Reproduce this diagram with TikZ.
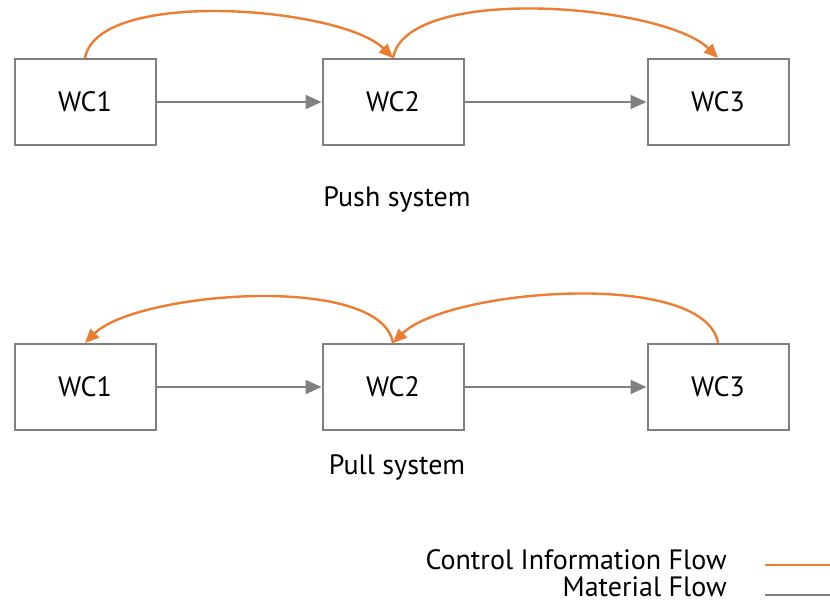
\documentclass[tikz,border=0pt]{standalone}
\usepackage{fontspec}
\setmainfont{PT Sans}
\usepackage{tikz}
\usetikzlibrary{arrows.meta,positioning}
\definecolor{ctrlorange}{RGB}{237,125,49}
\definecolor{matgray}{RGB}{128,128,128}
\tikzset{
    %Define standard arrow tip
    >={Triangle[length=7pt,width=6pt]},
    %Define style for work centres
    wcbox/.style={
           rectangle,
           draw=matgray, line width=1pt,
           minimum width=70.5pt,
           minimum height=43pt,
           font=\fontsize{14}{16}\selectfont,
           text centered},
    caption/.style={
           font=\fontsize{14}{16}\selectfont},
    legend/.style={
           caption, anchor=east, inner sep=0pt},
    % Define arrow styles
    matflow/.style={
           -{Triangle[length=8pt,width=7pt]},
           draw=matgray, line width=1pt},
    ctrlflow/.style={
           ->,
           draw=ctrlorange, line width=1.2pt}
}
\begin{document}
\begin{tikzpicture}[node distance=82.5pt]

\useasboundingbox (0,0) rectangle (415pt,-302.5pt);

 %push system
\node[wcbox] (push1) at (42.5pt,-51pt) {WC1};
\node[wcbox, right=of push1] (push2) {WC2};
\node[wcbox, right=91pt of push2] (push3) {WC3};
\node[caption, below=17pt of push2, xshift=2pt] (pushlbl) {Push system};

 %pull system
\node[wcbox, below=98.5pt of push1] (pull1) {WC1};
\node[wcbox, right=of pull1] (pull2) {WC2};
\node[wcbox, right=91pt of pull2] (pull3) {WC3};
\node[caption, below=8.5pt of pull2, xshift=2pt] (pulllbl) {Pull system};

 %legend
\node[legend] (ctrllbl) at (363.5pt,-280pt) {Control Information Flow};
\node[legend] (matlbl) at (363.5pt,-293.5pt) {Material Flow};
\coordinate (ctrlA) at (382.5pt,-282.5pt);
\coordinate (ctrlB) at (415pt,-282.5pt);
\coordinate (matA) at (382.5pt,-297.5pt);
\coordinate (matB) at (415pt,-297.5pt);

 %material flow
\draw[matflow] (push1) -- (push2);
\draw[matflow] (push2) -- (push3);
\draw[matflow] (pull1) -- (pull2);
\draw[matflow] (pull2) -- (pull3);

 %control information flow
\draw[ctrlflow] (push1.north) to[out=80,in=135,looseness=0.6] (push2.north);
\draw[ctrlflow] (push2.north) to[out=80,in=135,looseness=0.6] (push3.north);
\draw[ctrlflow] (pull2.north) to[out=100,in=45,looseness=0.6] (pull1.north);
\draw[ctrlflow] (pull3.north) to[out=100,in=45,looseness=0.6] (pull2.north);

\draw[ctrlorange, line width=0.8pt] (ctrlA) -- (ctrlB);
\draw[matgray, line width=0.8pt] (matA) -- (matB);

\end{tikzpicture}
\end{document}
